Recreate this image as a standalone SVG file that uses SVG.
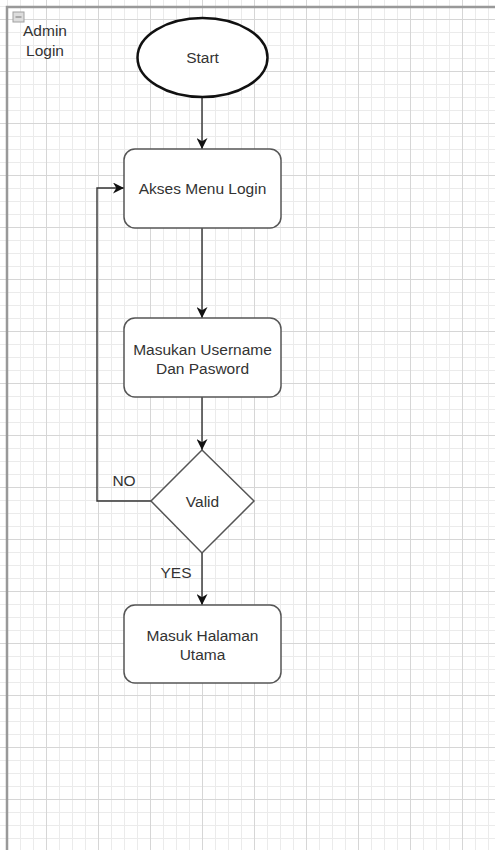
<svg xmlns="http://www.w3.org/2000/svg" width="495" height="850" viewBox="0 0 495 850">
  <style>
    .lbl { font-family: "Liberation Sans", Arial, Helvetica, sans-serif; font-size: 15.5px; fill: #333; text-anchor: middle; }
    .box { fill: #ffffff; stroke: #555555; stroke-width: 1.5; }
    .edge { fill: none; stroke: #333333; stroke-width: 1.4; }
  </style>
  <defs>
    <pattern id="gridMinor" patternUnits="userSpaceOnUse" x="7" y="6" width="13" height="13">
      <rect x="0" y="0" width="13" height="1" fill="#ebebeb"/>
      <rect x="0" y="0" width="1" height="13" fill="#ebebeb"/>
    </pattern>
    <pattern id="gridMajor" patternUnits="userSpaceOnUse" x="46" y="19" width="52" height="52">
      <rect x="0" y="0" width="52" height="1" fill="#d6d6d6"/>
      <rect x="0" y="0" width="1" height="52" fill="#d6d6d6"/>
    </pattern>
    <marker id="arrow" markerUnits="userSpaceOnUse" viewBox="0 0 10 10" markerWidth="11" markerHeight="11" refX="10" refY="5" orient="auto">
      <path d="M0,0 L10,5 L0,10 L3,5 z" fill="#111111"/>
    </marker>
  </defs>

  <!-- canvas and grid -->
  <rect x="0" y="0" width="495" height="850" fill="#ffffff"/>
  <rect x="0" y="0" width="495" height="850" fill="url(#gridMinor)"/>
  <rect x="0" y="0" width="495" height="850" fill="url(#gridMajor)"/>

  <!-- container -->
  <g id="container">
    <path d="M7,851 V7 H496" fill="none" stroke="#999999" stroke-width="2.5"/>
    <rect x="13" y="12" width="11" height="10" fill="#dddddd" stroke="#a0a0a0" stroke-width="1"/>
    <line x1="15.5" y1="17" x2="21.5" y2="17" stroke="#777777" stroke-width="1"/>
    <text class="lbl" x="45" y="35.5">Admin</text>
    <text class="lbl" x="45" y="55.5">Login</text>
  </g>

  <!-- connectors -->
  <g id="connectors">
    <path class="edge" d="M202,97 V149" marker-end="url(#arrow)"/>
    <path class="edge" d="M202,228 V318" marker-end="url(#arrow)"/>
    <path class="edge" d="M202,397 V450" marker-end="url(#arrow)"/>
    <path class="edge" d="M202,553 V605" marker-end="url(#arrow)"/>
    <path class="edge" d="M151,501 H97 V188 H124" marker-end="url(#arrow)"/>
    <text class="lbl" x="124" y="486">NO</text>
    <text class="lbl" x="176" y="578">YES</text>
  </g>

  <g id="start">
    <ellipse cx="202.5" cy="57.5" rx="65" ry="39.5" fill="#ffffff" stroke="#111111" stroke-width="2.5"/>
    <text class="lbl" x="202.5" y="63">Start</text>
  </g>

  <g id="akses-menu-login">
    <rect class="box" x="124" y="149" width="157" height="79" rx="11" ry="11"/>
    <text class="lbl" x="202.5" y="194">Akses Menu Login</text>
  </g>

  <g id="masukan-username">
    <rect class="box" x="124" y="318" width="157" height="79" rx="11" ry="11"/>
    <text class="lbl" x="202.5" y="354.5">Masukan Username</text>
    <text class="lbl" x="202.5" y="373.5">Dan Pasword</text>
  </g>

  <g id="valid">
    <polygon class="box" points="202,450 254,501 202,553 151,501" stroke="#666666"/>
    <text class="lbl" x="202.5" y="506.5">Valid</text>
  </g>

  <g id="masuk-halaman-utama">
    <rect class="box" x="124" y="605" width="157" height="78" rx="11" ry="11"/>
    <text class="lbl" x="202.5" y="641">Masuk Halaman</text>
    <text class="lbl" x="202.5" y="660">Utama</text>
  </g>
</svg>
